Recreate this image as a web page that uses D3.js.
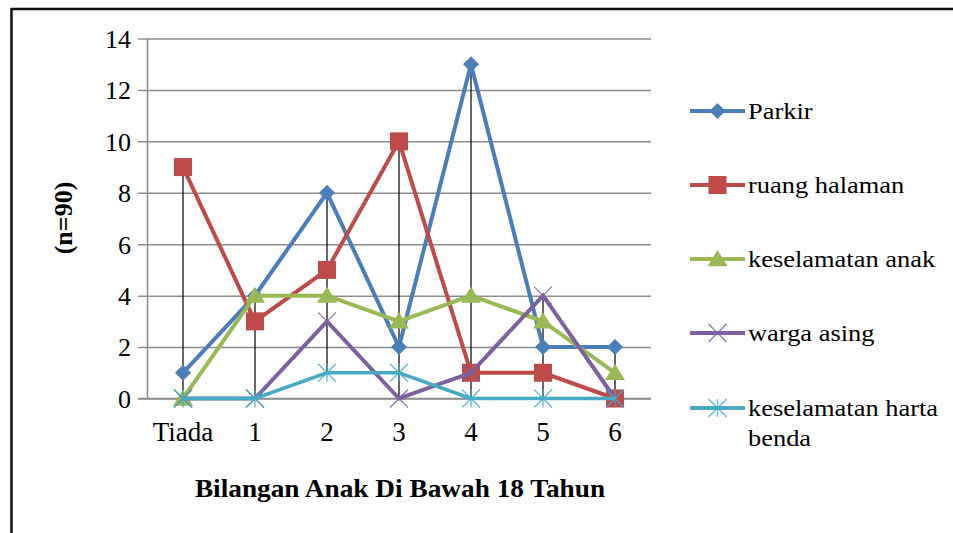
<!DOCTYPE html>
<html>
<head>
<meta charset="utf-8">
<script src="https://cdn.jsdelivr.net/npm/d3@7/dist/d3.min.js"></script>
<style>
  html, body { margin: 0; padding: 0; background: #fff; }
  svg { display: block; }
</style>
</head>
<body>
<svg id="chart" width="953" height="533" font-family="Liberation Serif"></svg>
<script>
const categories = ["Tiada", "1", "2", "3", "4", "5", "6"];
const seriesNames = ["Parkir", "ruang halaman", "keselamatan anak", "warga asing", "keselamatan harta benda"];
const parkir = [1, 4, 8, 2, 13, 2, 2];
const ruangHalaman = [9, 3, 5, 10, 1, 1, 0];
const keselamatanAnak = [0, 4, 4, 3, 4, 3, 1];
const wargaAsing = [0, 0, 3, 0, 1, 4, 0];
const keselamatanHartaBenda = [0, 0, 1, 1, 0, 0, 0];
const yTicks = [0, 2, 4, 6, 8, 10, 12, 14];
const xTitle = "Bilangan Anak Di Bawah 18 Tahun";
const yTitle = "(n=90)";

const seriesValues = [parkir, ruangHalaman, keselamatanAnak, wargaAsing, keselamatanHartaBenda];
const colors = ["#4a7ebb", "#be4b48", "#98b954", "#7d60a0", "#46aac5"];
const markers = ["diamond", "square", "triangle", "x", "star"];
const FONT = "Liberation Serif";

const svg = d3.select("#chart");

// outer frame
svg.append("rect").attr("x", 11.5).attr("y", 9).attr("width", 960).attr("height", 560)
  .attr("fill", "none").attr("stroke", "#111").attr("stroke-width", 2.5);

const x = d3.scaleBand().domain(categories).range([147, 651]).padding(0);
const y = d3.scaleLinear().domain([0, 14]).range([398.5, 38.5]);
const cx = c => x(c) + x.bandwidth() / 2;

// gridlines (y axis)
const yAxis = d3.axisLeft(y).tickValues(yTicks).tickSize(-(651 - 147)).tickSizeOuter(0).tickPadding(16);
const gy = svg.append("g").attr("transform", "translate(147,0)").call(yAxis).attr("font-family", FONT);
gy.select(".domain").attr("stroke", "#8c8c8c").attr("stroke-width", 1.5);
gy.selectAll(".tick line").attr("stroke", "#8c8c8c").attr("stroke-width", 1.5).attr("x1", -9);
gy.selectAll(".tick text").attr("font-size", 26).attr("font-family", FONT).attr("fill", "#000").attr("dy", "0.34em");

// x axis
const xAxis = d3.axisBottom(x).tickSize(0).tickPadding(26);
const gx = svg.append("g").attr("transform", "translate(0,398.5)").call(xAxis).attr("font-family", FONT);
gx.select(".domain").attr("stroke", "#8c8c8c").attr("stroke-width", 1.5).attr("d", "M138,0H651");
gx.selectAll(".tick text").attr("font-size", 27).attr("font-family", FONT).attr("fill", "#000").attr("dy", "0.6em");

// high-low lines
const hl = categories.map((c, i) => {
  const vals = seriesValues.map(s => s[i]);
  return { c, hi: d3.max(vals), lo: d3.min(vals) };
});
svg.append("g").selectAll("line").data(hl).join("line")
  .attr("x1", d => cx(d.c)).attr("x2", d => cx(d.c))
  .attr("y1", d => y(d.hi)).attr("y2", d => y(d.lo))
  .attr("stroke", "#000").attr("stroke-width", 1.2);

function drawMarker(g, type, color, px, py) {
  if (type === "diamond") {
    const s = 8;
    g.append("path").attr("d", `M${px},${py - s}L${px + s},${py}L${px},${py + s}L${px - s},${py}Z`).attr("fill", color);
  } else if (type === "square") {
    const s = 9;
    g.append("rect").attr("x", px - s).attr("y", py - s).attr("width", 2 * s).attr("height", 2 * s).attr("fill", color);
  } else if (type === "triangle") {
    const s = 9;
    g.append("path").attr("d", `M${px},${py - s}L${px + s + 1},${py + s * 0.8}L${px - s - 1},${py + s * 0.8}Z`).attr("fill", color);
  } else if (type === "x") {
    const s = 9;
    g.append("path").attr("d", `M${px - s},${py - s}L${px + s},${py + s}M${px - s},${py + s}L${px + s},${py - s}`)
      .attr("stroke", color).attr("stroke-width", 1.3).attr("opacity", 0.85);
  } else if (type === "star") {
    const s = 9;
    g.append("path").attr("d", `M${px - s},${py - s}L${px + s},${py + s}M${px - s},${py + s}L${px + s},${py - s}M${px},${py - s}L${px},${py + s}`)
      .attr("stroke", color).attr("stroke-width", 1.3).attr("opacity", 0.85);
  }
}

const line = d3.line().x((d, i) => cx(categories[i])).y(d => y(d));
seriesValues.forEach((vals, si) => {
  const g = svg.append("g");
  g.append("path").datum(vals).attr("d", line).attr("fill", "none")
    .attr("stroke", colors[si]).attr("stroke-width", si === 4 ? 3.5 : 4).attr("stroke-linejoin", "miter");
  vals.forEach((v, i) => drawMarker(g, markers[si], colors[si], cx(categories[i]), y(v)));
});

// legend
const legendY = [111, 185, 259, 333, 408];
const lg = svg.append("g").attr("font-family", FONT);
seriesNames.forEach((name, si) => {
  const ly = legendY[si];
  lg.append("line").attr("x1", 690).attr("x2", 745).attr("y1", ly).attr("y2", ly)
    .attr("stroke", colors[si]).attr("stroke-width", 4);
  drawMarker(lg, markers[si], colors[si], 717.5, ly);
  const t = lg.append("text").attr("transform", `translate(748,${ly + 8}) scale(1.15,1)`)
    .attr("font-size", 23).attr("font-family", FONT).attr("fill", "#000");
  if (si === 4) {
    t.append("tspan").attr("x", 0).text("keselamatan harta");
    t.append("tspan").attr("x", 0).attr("dy", 30).text("benda");
  } else {
    t.text(name);
  }
});

// axis titles
svg.append("text").attr("transform", "translate(400,497) scale(1.05,1)").attr("text-anchor", "middle").attr("font-family", FONT)
  .attr("font-size", 26).attr("font-weight", "bold").attr("fill", "#000").text(xTitle);
svg.append("text").attr("transform", "translate(72,218) rotate(-90)").attr("text-anchor", "middle").attr("font-family", FONT)
  .attr("font-size", 26).attr("font-weight", "bold").attr("fill", "#000").text(yTitle);
</script>
</body>
</html>
